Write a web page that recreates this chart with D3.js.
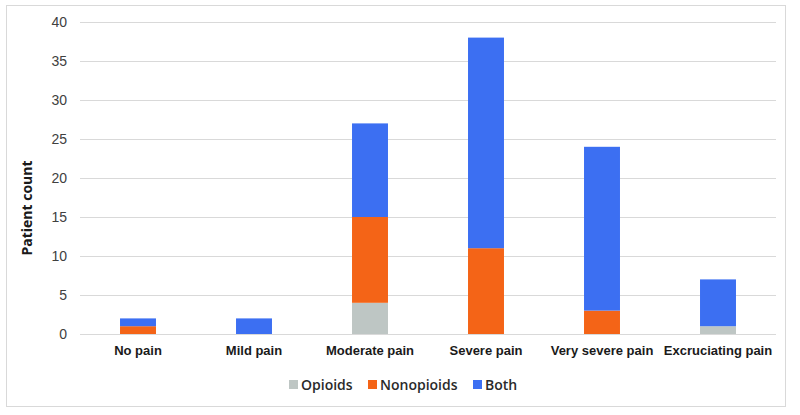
<!DOCTYPE html>
<html><head><meta charset="utf-8">
<script src="https://cdn.jsdelivr.net/npm/d3@7"></script>
<style>body{margin:0;background:#fff;}svg{display:block;font-family:"Open Sans",sans-serif;}</style>
</head><body><svg id="c" width="800" height="415"></svg>
<script>
const categories = ["No pain","Mild pain","Moderate pain","Severe pain","Very severe pain","Excruciating pain"];
const seriesNames = ["Opioids","Nonopioids","Both"];
const opioids    = [0, 0, 4, 0, 0, 1];
const nonopioids = [1, 0, 11, 11, 3, 0];
const both       = [1, 2, 12, 27, 21, 6];
const yTicks = [0,5,10,15,20,25,30,35,40];
const colors = ["#bec6c4","#f46417","#3c6ff2"];

const svg = d3.select("#c");
svg.append("rect").attr("x",6.5).attr("y",5.5).attr("width",779).attr("height",401)
  .attr("fill","#fff").attr("stroke","#d9d9d9");

const m = {left:80, right:776, top:22, bottom:334};
const x = d3.scaleBand().domain(categories).range([m.left,m.right]).paddingInner(0.69).paddingOuter(0.345);
const y = d3.scaleLinear().domain([0,40]).range([m.bottom,m.top]);

const yAxis = d3.axisLeft(y).tickValues(yTicks).tickSize(-(m.right-m.left)).tickPadding(13);
const gy = svg.append("g").attr("transform",`translate(${m.left},0)`).call(yAxis);
gy.select(".domain").remove();
gy.selectAll(".tick line").attr("stroke","#d9d9d9");
gy.selectAll(".tick text").attr("fill","#404040").style("font-size","14px");

const rows = categories.map((c,i)=>({cat:c, Opioids:opioids[i], Nonopioids:nonopioids[i], Both:both[i]}));
const stack = d3.stack().keys(seriesNames)(rows);
svg.append("g").selectAll("g").data(stack).join("g").attr("fill",(d,i)=>colors[i])
  .selectAll("rect").data(d=>d).join("rect")
  .attr("x",d=>x(d.data.cat)).attr("width",x.bandwidth())
  .attr("y",d=>y(d[1])).attr("height",d=>y(d[0])-y(d[1]));

const xAxis = d3.axisBottom(x).tickSize(0).tickPadding(12);
const gx = svg.append("g").attr("transform",`translate(0,${m.bottom})`).call(xAxis);
gx.select(".domain").remove();
gx.selectAll(".tick text").attr("fill","#1a1a1a").style("font-size","13px").style("font-weight","bold");

svg.append("text").attr("transform","translate(32,208) rotate(-90)").attr("text-anchor","middle")
  .attr("fill","#1a1a1a").style("font-size","14px").style("font-weight","bold").text("Patient count");

const legX = [289, 368, 473];
const lg = svg.append("g").selectAll("g").data(seriesNames).join("g")
  .attr("transform",(d,i)=>`translate(${legX[i]},385)`);
lg.append("rect").attr("x",0).attr("y",-5).attr("width",9).attr("height",9).attr("fill",(d,i)=>colors[i]);
lg.append("text").attr("x",12).attr("y",5).attr("fill","#2a2a2a").style("font-size","14px")
  .style("font-weight","600").text(d=>d);
</script></body></html>
